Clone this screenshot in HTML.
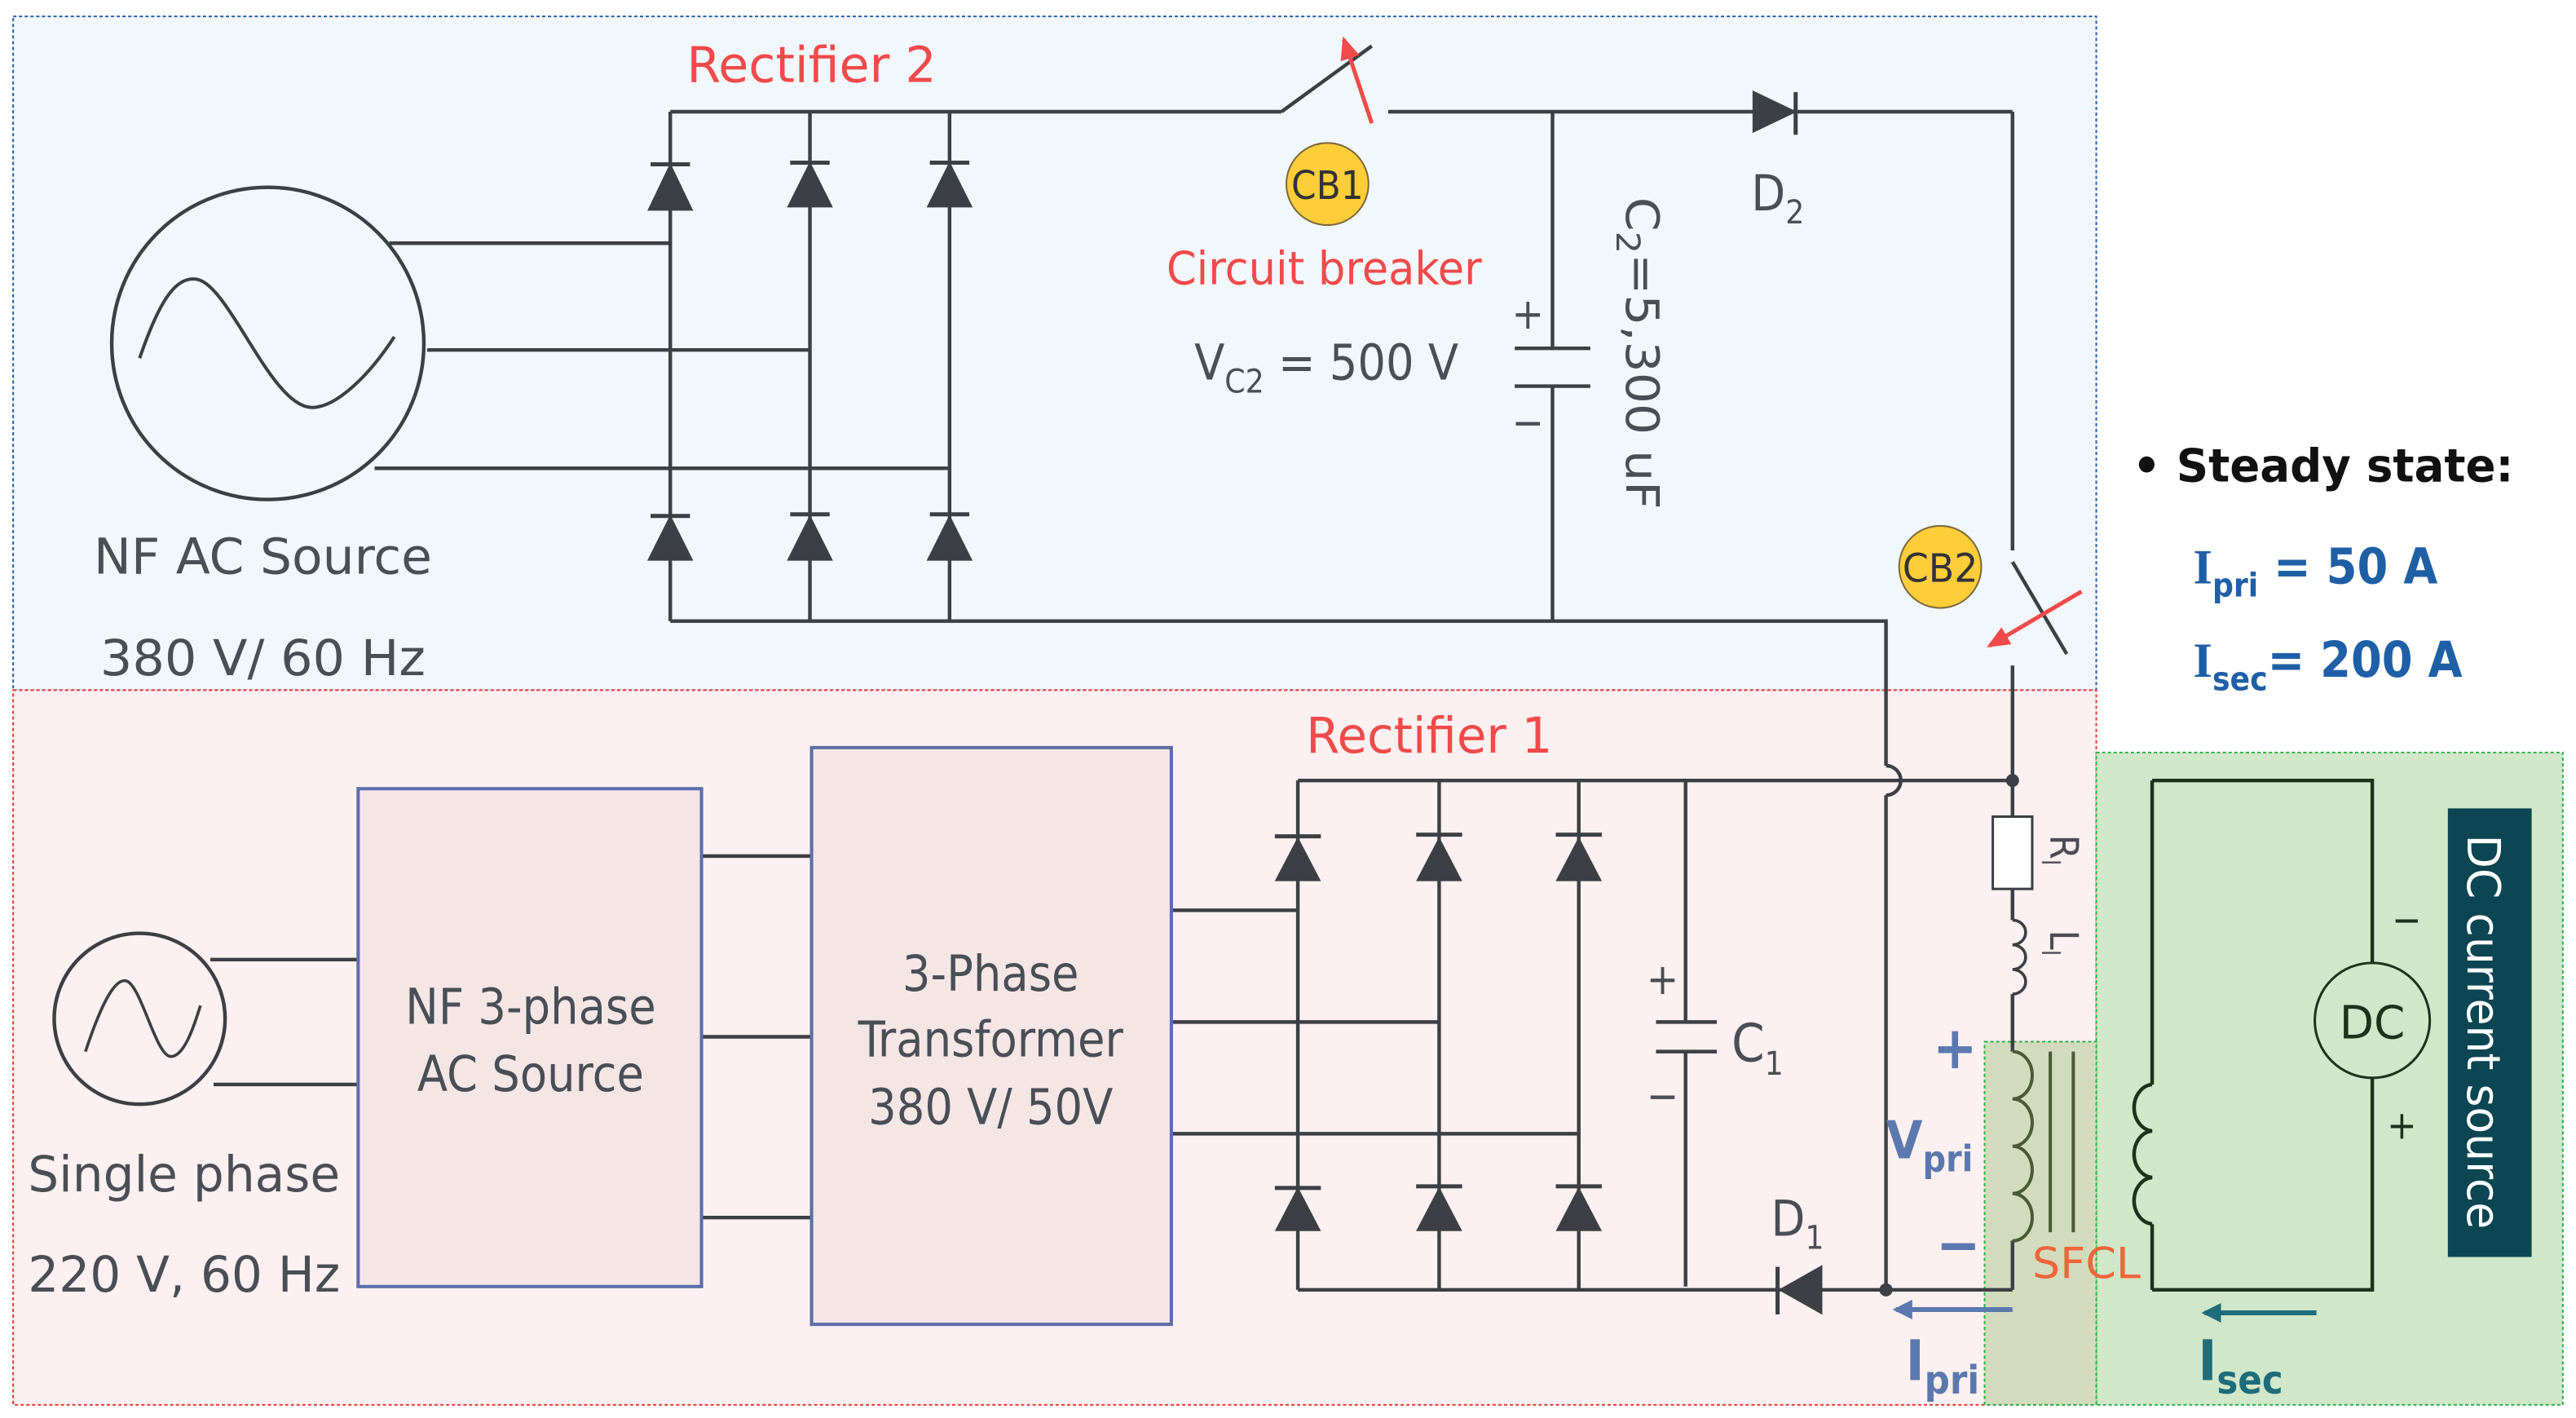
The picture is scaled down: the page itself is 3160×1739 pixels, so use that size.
<!DOCTYPE html>
<html><head><meta charset="utf-8"><style>
html,body{margin:0;padding:0;background:#fff;}
svg{display:block;}
text{font-family:"DejaVu Sans Condensed","DejaVu Sans","Liberation Sans",sans-serif;}
</style></head><body>
<svg width="3160" height="1739" viewBox="0 0 1568 863" preserveAspectRatio="none" xmlns="http://www.w3.org/2000/svg">
<defs>
<marker id="ar" markerWidth="14" markerHeight="12" refX="12" refY="6" orient="auto" markerUnits="userSpaceOnUse"><path d="M0,0 L14,6 L0,12 z" fill="#f04a4a"/></marker>
<marker id="ab" markerWidth="12" markerHeight="12" refX="10" refY="6" orient="auto" markerUnits="userSpaceOnUse"><path d="M0,0 L12,6 L0,12 z" fill="#5b79ae"/></marker>
<marker id="at" markerWidth="12" markerHeight="12" refX="10" refY="6" orient="auto" markerUnits="userSpaceOnUse"><path d="M0,0 L12,6 L0,12 z" fill="#1f6c7a"/></marker>
</defs>
<rect x="8" y="10" width="1268" height="410" fill="#f2f7fc" stroke="#2d5fa8" stroke-width="1" stroke-dasharray="2,1.5"/>
<rect x="8" y="420" width="1268" height="435" fill="#fdf0f0" stroke="#e63c3c" stroke-width="1" stroke-dasharray="2,1.5"/>
<rect x="1276" y="458" width="284" height="397" fill="#d0e7c9" stroke="#2fb04a" stroke-width="1" stroke-dasharray="2,1.5"/>
<rect x="1208" y="634" width="68" height="221" fill="#d2dcbd" stroke="#2fb04a" stroke-width="1" stroke-dasharray="2,1.5"/>

<g stroke="#3c4044" stroke-width="2.2" fill="none">
<circle cx="163" cy="209" r="95"/>
<path d="M85,218 C98,180 108,168 120,170 C140,174 165,248 190,248 C205,248 225,228 240,205" stroke-width="2"/>
<path d="M237,148 H408 M260,213 H493 M228,285 H578"/>
<path d="M408,68 V378 M493,68 V378 M578,68 V378 M408,68 H780 M780,68 L835,28 M845,68 H1225 M408,378 H1148 V466 M1148,484 V785 M1225,68 V335 M1225,342 L1258,398 M1225,405 V475"/>
<path d="M1148,466 A9,9 0 0 1 1148,484"/>
<path d="M945,68 V212 M945,235 V378 M922,212 H968 M922,235 H968"/>
<circle cx="85" cy="620" r="52"/>
<path d="M52,640 C62,610 70,595 77,597 C86,600 95,643 104,643 C112,643 118,625 122,612" stroke-width="1.8"/>
<path d="M128,584 H218 M130,660 H218 M427,521 H494 M427,631 H494 M427,741 H494 M713,554 H790 M713,622 H876 M713,690 H961"/>
<path d="M790,475 V785 M876,475 V785 M961,475 V785 M790,475 H1225 M790,785 H1225"/>
<path d="M1026,475 V622 M1026,640 V783 M1008,622 H1045 M1008,640 H1045"/>
<path d="M1225,475 V497 M1225,541 V560 M1225,605 V640 M1225,755 V785"/>
<path d="M1225,560 a8,7.5 0 0 1 0,15 a8,7.5 0 0 1 0,15 a8,7.5 0 0 1 0,15" stroke-width="1.8"/>
</g>
<rect x="1213" y="497" width="24" height="44" fill="#fff" stroke="#3c4044" stroke-width="1.5"/>
<g stroke="#4a5a35" stroke-width="2" fill="none">
<path d="M1225,640 a12,14.4 0 0 1 0,28.8 a12,14.4 0 0 1 0,28.8 a12,14.4 0 0 1 0,28.8 a12,14.4 0 0 1 0,28.8"/>
<path d="M1248,640 V750 M1262,640 V750"/>
</g>
<g stroke="#1d321b" stroke-width="2.2" fill="none">
<path d="M1310,475 V660 M1310,745 V785 M1310,475 H1444 V586 M1444,656 V785 H1310"/>
<path d="M1310,660 a12,14.2 0 0 0 0,28.3 a12,14.2 0 0 0 0,28.3 a12,14.2 0 0 0 0,28.3"/>
<circle cx="1444" cy="621" r="35" stroke-width="1.5"/>
</g>
<circle cx="1225" cy="475" r="4" fill="#3c4044"/>
<circle cx="1148" cy="785" r="4" fill="#3c4044"/>
<g fill="#3c4044" stroke="#3c4044" stroke-width="2.5">
<path d="M396,127 L408,102 L420,127 z M396,100 H420"/>
<path d="M481,125 L493,101 L505,125 z M481,99 H505"/>
<path d="M566,125 L578,101 L590,125 z M566,99 H590"/>
<path d="M396,340 L408,316 L420,340 z M396,314 H420"/>
<path d="M481,340 L493,316 L505,340 z M481,313 H505"/>
<path d="M566,340 L578,316 L590,340 z M566,313 H590"/>
<path d="M778,535 L790,512 L802,535 z M776,509 H804"/>
<path d="M864,535 L876,512 L888,535 z M862,508 H890"/>
<path d="M949,535 L961,512 L973,535 z M947,508 H975"/>
<path d="M778,748 L790,725 L802,748 z M776,723 H804"/>
<path d="M864,748 L876,725 L888,748 z M862,722 H890"/>
<path d="M949,748 L961,725 L973,748 z M947,722 H975"/>
<path d="M1068,57 L1091,68 L1068,79 z M1093,56 V82"/>
<path d="M1108,772 L1085,785 L1108,798 z M1082,771 V800"/>
</g>
<line x1="835" y1="75" x2="818" y2="24" stroke="#f04a4a" stroke-width="2.5" marker-end="url(#ar)"/>
<line x1="1267" y1="360" x2="1211" y2="393" stroke="#f04a4a" stroke-width="2.5" marker-end="url(#ar)"/>
<circle cx="808" cy="112" r="25" fill="#fdcd3a" stroke="#7a6a3a" stroke-width="1"/>
<circle cx="1181" cy="345" r="25" fill="#fdcd3a" stroke="#7a6a3a" stroke-width="1"/>
<text x="808" y="121" font-size="24" text-anchor="middle" fill="#333" textLength="44" lengthAdjust="spacingAndGlyphs">CB1</text>
<text x="1181" y="354" font-size="24" text-anchor="middle" fill="#333" textLength="46" lengthAdjust="spacingAndGlyphs">CB2</text>
<line x1="1225" y1="797" x2="1154" y2="797" stroke="#5b79ae" stroke-width="3" marker-end="url(#ab)"/>
<line x1="1410" y1="799" x2="1342" y2="799" stroke="#1f6c7a" stroke-width="3" marker-end="url(#at)"/>
<rect x="1490" y="492" width="51" height="273" fill="#0b4652"/>
<text transform="translate(1502,628) rotate(90)" font-size="28" text-anchor="middle" fill="#fff" font-family="Liberation Sans, sans-serif" textLength="240" lengthAdjust="spacingAndGlyphs">DC current source</text>
<g fill="#f04a4a">
<text x="494" y="50" font-size="30" text-anchor="middle" textLength="152" lengthAdjust="spacingAndGlyphs">Rectifier 2</text>
<text x="806" y="173" font-size="28" text-anchor="middle" textLength="192" lengthAdjust="spacingAndGlyphs">Circuit breaker</text>
<text x="870" y="458" font-size="30" text-anchor="middle" textLength="150" lengthAdjust="spacingAndGlyphs">Rectifier 1</text>
</g>
<text x="1237" y="778" font-size="26" fill="#f0643a" textLength="66" lengthAdjust="spacingAndGlyphs">SFCL</text>
<g fill="#4a4e55">
<text x="160" y="349" font-size="30" text-anchor="middle" textLength="206" lengthAdjust="spacingAndGlyphs">NF AC Source</text>
<text x="160" y="411" font-size="30" text-anchor="middle" textLength="198" lengthAdjust="spacingAndGlyphs">380 V/ 60 Hz</text>
<text x="727" y="231" font-size="30">V<tspan font-size="20" dy="8">C2</tspan><tspan dy="-8"> = 500 V</tspan></text>
<text x="930" y="200" font-size="26" text-anchor="middle">+</text>
<text x="930" y="266" font-size="26" text-anchor="middle">−</text>
<text transform="translate(990,120) rotate(90)" font-size="28" textLength="190" lengthAdjust="spacingAndGlyphs">C<tspan font-size="20" dy="6">2</tspan><tspan dy="-6">=5,300 uF</tspan></text>
<text x="1066" y="128" font-size="30">D<tspan font-size="20" dy="8">2</tspan></text>
<text x="112" y="725" font-size="30" text-anchor="middle" textLength="190" lengthAdjust="spacingAndGlyphs">Single phase</text>
<text x="112" y="786" font-size="30" text-anchor="middle" textLength="190" lengthAdjust="spacingAndGlyphs">220 V, 60 Hz</text>
<text x="1012" y="605" font-size="26" text-anchor="middle">+</text>
<text x="1012" y="676" font-size="26" text-anchor="middle">−</text>
<text x="1054" y="646" font-size="32">C<tspan font-size="20" dy="8">1</tspan></text>
<text x="1078" y="752" font-size="30">D<tspan font-size="20" dy="8">1</tspan></text>
<text transform="translate(1248,508) rotate(90)" font-size="24">R<tspan font-size="15" dy="5">l</tspan></text>
<text transform="translate(1248,566) rotate(90)" font-size="24">L<tspan font-size="15" dy="5">l</tspan></text>
</g>
<rect x="218" y="480" width="209" height="303" fill="#f5e6e6" stroke="#5b6ea8" stroke-width="2"/>
<rect x="494" y="455" width="219" height="351" fill="#f5e6e6" stroke="#5b6ea8" stroke-width="2"/>
<g fill="#4a4e55" font-size="30" text-anchor="middle">
<text x="323" y="623">NF 3-phase</text>
<text x="323" y="664">AC Source</text>
<text x="603" y="603">3-Phase</text>
<text x="603" y="643">Transformer</text>
<text x="603" y="684">380 V/ 50V</text>
</g>
<text x="1444" y="632" font-size="28" text-anchor="middle" fill="#1d321b" textLength="40" lengthAdjust="spacingAndGlyphs">DC</text>
<text x="1465" y="568" font-size="24" text-anchor="middle" fill="#1d321b">−</text>
<text x="1462" y="693" font-size="24" text-anchor="middle" fill="#1d321b">+</text>
<g fill="#5b79ae" font-weight="bold">
<text x="1190" y="650" font-size="36" text-anchor="middle">+</text>
<text x="1148" y="705" font-size="32">V<tspan font-size="22" dy="8">pri</tspan></text>
<text x="1192" y="770" font-size="36" text-anchor="middle">−</text>
<text x="1160" y="840" font-size="34" font-family="Liberation Serif, serif">I<tspan font-size="24" dy="8" font-family="DejaVu Sans Condensed, sans-serif">pri</tspan></text>
</g>
<text x="1338" y="840" font-size="34" font-weight="bold" fill="#1f6c7a" font-family="Liberation Serif, serif">I<tspan font-size="24" dy="8" font-family="DejaVu Sans Condensed, sans-serif">sec</tspan></text>
<text x="1298" y="293" font-size="28" font-weight="bold" fill="#111" textLength="232" lengthAdjust="spacingAndGlyphs">• Steady state:</text>
<g fill="#1f5fa6" font-weight="bold" font-size="30">
<text x="1335" y="355"><tspan font-family="Liberation Serif, serif">I</tspan><tspan font-size="20" dy="8">pri</tspan><tspan dy="-8"> = 50 A</tspan></text>
<text x="1335" y="412"><tspan font-family="Liberation Serif, serif">I</tspan><tspan font-size="20" dy="8">sec</tspan><tspan dy="-8">= 200 A</tspan></text>
</g>
</svg>
</body></html>
